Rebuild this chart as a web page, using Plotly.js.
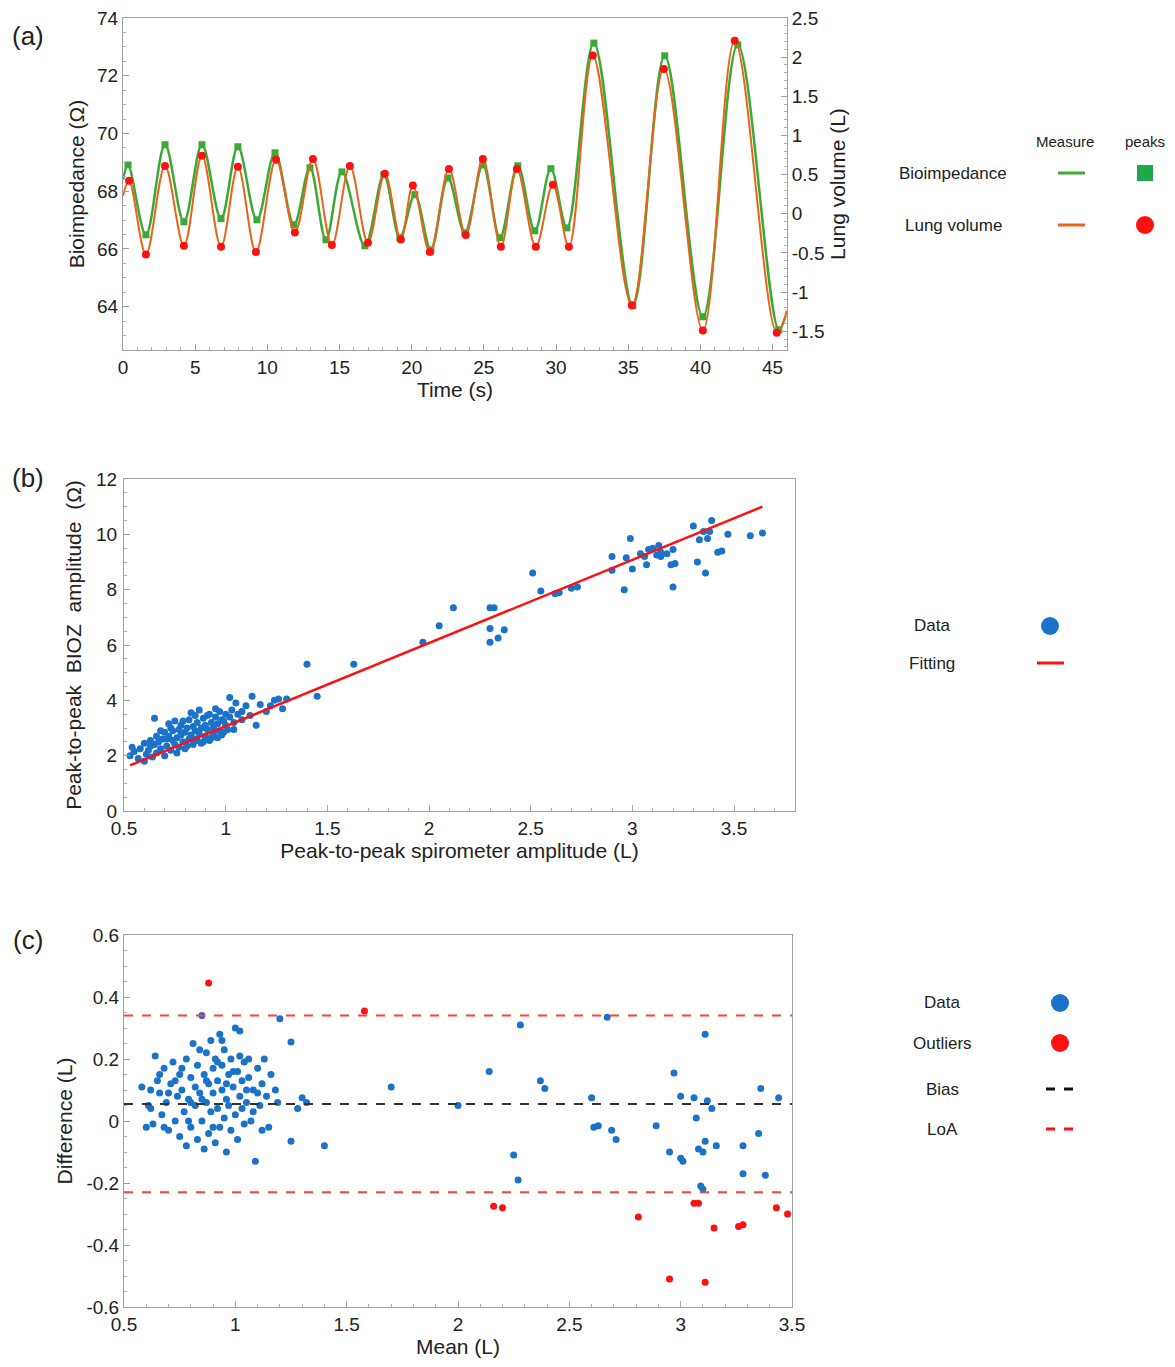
<!DOCTYPE html>
<html>
<head>
<meta charset="utf-8">
<script src="https://cdn.plot.ly/plotly-3.0.1.min.js"></script>
<style>body{margin:0;background:#fff}#chart{width:1175px;height:1367px}</style>
</head>
<body>
<div id="chart"></div>
<script>
// (a) extrema of the two signals (time s, value)
const bioT = [0, 0.35, 1.59, 2.91, 4.22, 5.47, 6.79, 7.96, 9.28, 10.53, 11.84, 12.95, 14.06, 15.17, 16.76, 18.07, 19.18, 20.22, 21.33, 22.51, 23.68, 24.93, 26.11, 27.35, 28.53, 29.64, 30.75, 32.62, 35.32, 37.53, 40.17, 42.59, 45.43, 46];
const bioZ = [68.4, 68.91, 66.49, 69.61, 66.94, 69.61, 67.05, 69.54, 67.01, 69.33, 66.84, 68.81, 66.32, 68.67, 66.11, 68.57, 66.39, 67.88, 65.97, 68.46, 66.56, 68.91, 66.39, 68.88, 66.63, 68.78, 66.73, 73.13, 64.03, 72.69, 63.65, 73.07, 63.2, 63.86];
const lungT = [0, 0.42, 1.59, 2.91, 4.22, 5.47, 6.79, 7.96, 9.21, 10.6, 11.91, 13.16, 14.47, 15.72, 16.97, 18.14, 19.25, 20.08, 21.26, 22.58, 23.75, 24.93, 26.18, 27.29, 28.6, 29.78, 30.89, 32.55, 35.25, 37.47, 40.17, 42.38, 45.29, 46];
const lungV = [0.23, 0.42, -0.52, 0.61, -0.41, 0.74, -0.42, 0.6, -0.49, 0.69, -0.24, 0.7, -0.4, 0.61, -0.37, 0.51, -0.33, 0.36, -0.49, 0.57, -0.27, 0.7, -0.42, 0.57, -0.42, 0.37, -0.42, 2.02, -1.17, 1.85, -1.49, 2.21, -1.52, -1.24];
const lungTicks = [-1.5, -1, -0.5, 0, 0.5, 1, 1.5, 2, 2.5];

// (b) peak-to-peak amplitudes [spirometer L, BIOZ ohm]
const ampPairs = [
  [0.57,1.9],[0.58,2.25],[0.6,1.8],[0.61,2.05],[0.62,2.2],[0.63,2.35],[0.64,1.95],[0.65,2.4],[0.65,3.35],[0.66,2.1],[0.67,2.5],[0.68,2.25],[0.69,2.6],[0.7,2.0],[0.7,2.85],[0.71,2.35],[0.72,2.7],[0.72,3.15],[0.73,2.2],[0.74,2.55],[0.74,2.9],[0.75,2.4],[0.75,3.25],[0.76,2.65],[0.77,2.3],[0.77,2.95],[0.78,2.75],[0.78,3.1],[0.79,2.5],[0.8,2.85],[0.8,2.25],[0.81,3.0],[0.82,2.6],[0.82,3.3],[0.83,2.75],[0.84,2.4],[0.84,3.05],[0.85,2.9],[0.85,3.45],[0.86,2.55],[0.86,3.2],[0.87,2.8],[0.88,3.0],[0.88,2.45],[0.89,3.35],[0.9,2.7],[0.9,3.1],[0.91,2.95],[0.92,2.55],[0.92,3.5],[0.93,3.2],[0.94,2.8],[0.94,3.0],[0.95,3.4],[0.96,2.65],[0.96,3.15],[0.97,3.6],[0.97,2.9],[0.98,3.3],[0.99,2.85],[1.0,3.5],[1.0,3.1],[1.01,2.95],[1.02,4.1],[1.02,3.4],[1.03,3.65],[1.04,3.2],[1.05,3.9],[1.06,3.5],[1.08,3.6],[1.08,3.3],[1.1,3.8],[1.12,3.45],[1.13,4.15],[1.15,3.1],[1.17,3.85],[1.2,3.6],[1.22,3.8],[1.24,4.0],[1.26,4.05],[1.28,3.7],[1.3,4.05],[0.68,2.9],[0.73,3.0],[0.79,3.25],[0.83,3.55],[0.87,3.65],[0.91,3.45],[0.95,3.7],[0.99,3.25],[0.76,2.1],[0.81,2.35],[0.85,2.6],[0.89,2.5],[0.93,2.65],[0.98,2.75],[1.04,2.95],[0.66,2.7],[0.71,2.6],[0.63,2.55],[0.6,2.45],[0.55,2.15],[0.53,2.0],[0.54,2.3],
  [1.4,5.3],[1.45,4.15],[1.63,5.3],[1.97,6.1],[2.05,6.7],[2.12,7.35],[2.3,7.35],[2.32,7.35],[2.3,6.1],[2.3,6.6],[2.34,6.25],[2.37,6.55],[2.51,8.6],[2.55,7.95],[2.62,7.85],[2.64,7.9],[2.7,8.05],[2.73,8.1],[2.9,9.2],[2.9,8.7],[2.96,8.0],[2.97,9.15],[2.99,9.85],[3.0,8.75],[3.04,9.3],[3.07,8.9],[3.08,9.45],[3.1,9.5],[3.12,9.25],[3.13,9.6],[3.14,9.35],[3.17,9.3],[3.19,8.9],[3.2,8.1],[3.2,9.45],[3.21,8.95],[3.3,10.3],[3.32,9.0],[3.33,9.8],[3.35,10.1],[3.36,8.6],[3.37,9.85],[3.38,10.1],[3.39,10.5],[3.42,9.35],[3.44,9.4],[3.47,10.0],[3.58,9.95],[3.64,10.05],[3.14,9.2],[3.06,9.2]
];
const fitX = [0.53, 3.64];
const fitY = [1.65, 11.0];

// (c) Bland-Altman [mean L, difference L]
const baPairs = [
  [0.58,0.11],[0.6,-0.02],[0.61,0.05],[0.62,0.04],[0.63,-0.01],[0.64,0.21],[0.65,0.13],[0.66,0.09],[0.67,0.02],[0.68,0.17],[0.69,0.06],[0.7,-0.03],[0.71,0.12],[0.72,0.19],[0.73,0.0],[0.74,0.08],[0.75,-0.05],[0.75,0.15],[0.76,0.1],[0.77,0.03],[0.78,0.2],[0.78,-0.08],[0.79,0.07],[0.8,0.14],[0.8,-0.02],[0.81,0.25],[0.82,0.05],[0.82,0.11],[0.83,-0.06],[0.83,0.18],[0.84,0.09],[0.85,0.0],[0.85,0.34],[0.86,0.15],[0.86,-0.09],[0.87,0.22],[0.87,0.06],[0.88,0.12],[0.88,-0.04],[0.89,0.26],[0.89,0.03],[0.9,0.17],[0.9,0.09],[0.91,-0.07],[0.91,0.2],[0.92,0.04],[0.92,0.13],[0.93,0.28],[0.93,-0.02],[0.94,0.1],[0.94,0.18],[0.95,0.01],[0.95,0.23],[0.96,0.07],[0.96,-0.1],[0.97,0.15],[0.97,0.05],[0.98,0.2],[0.98,-0.03],[0.99,0.11],[1.0,0.3],[1.0,0.02],[1.01,0.16],[1.01,-0.06],[1.02,0.08],[1.02,0.21],[1.03,0.13],[1.04,-0.01],[1.04,0.19],[1.05,0.06],[1.06,0.14],[1.06,0.2],[1.07,0.0],[1.08,0.1],[1.08,0.03],[1.09,-0.13],[1.1,0.17],[1.11,0.05],[1.12,0.12],[1.13,0.2],[1.14,0.08],[1.15,-0.02],[1.16,0.15],[1.18,0.1],[1.19,0.06],[1.02,0.29],[0.94,0.26],[0.84,0.23],[0.76,0.17],[0.7,0.09],[0.68,-0.02],[0.73,0.13],[0.8,0.06],[0.87,0.13],[0.9,-0.02],[0.96,0.12],[1.03,0.04],[1.1,0.09],[0.79,0.0],[0.85,0.07],[0.92,0.19],[0.99,0.16],[1.05,0.1],[1.12,-0.03],[0.66,0.15],[0.62,0.1],
  [1.2,0.33],[1.25,0.255],[1.25,-0.065],[1.3,0.075],[1.32,0.06],[1.28,0.04],[1.4,-0.08],[1.7,0.11],[2.0,0.05],[2.14,0.16],[2.25,-0.11],[2.27,-0.19],[2.28,0.31],[2.37,0.13],[2.39,0.105],[2.6,0.075],[2.61,-0.02],[2.63,-0.015],[2.67,0.335],[2.69,-0.03],[2.71,-0.06],[2.89,-0.015],[2.95,-0.1],[2.97,0.155],[3.0,0.08],[3.0,-0.12],[3.01,-0.13],[3.07,0.01],[3.08,-0.09],[3.09,-0.21],[3.1,-0.22],[3.1,-0.1],[3.11,0.28],[3.11,-0.065],[3.12,0.065],[3.14,0.04],[3.16,-0.08],[3.28,-0.17],[3.28,-0.08],[3.35,-0.04],[3.36,0.105],[3.38,-0.175],[3.44,0.075],[3.06,0.075]
];
const outPairs = [[0.88,0.445],[1.58,0.355],[2.16,-0.275],[2.2,-0.28],[2.81,-0.31],[2.95,-0.51],[3.06,-0.265],[3.08,-0.265],[3.11,-0.52],[3.15,-0.345],[3.26,-0.34],[3.28,-0.335],[3.43,-0.28],[3.48,-0.3]];
const diffTicks = [-0.6, -0.4, -0.2, 0, 0.2, 0.4, 0.6];
const bias = 0.055;
const loa = [0.34, -0.23];

const W = 1175, H = 1367;
const px = x => x / W, py = y => 1 - y / H;
const GREEN = "#3aaa35", ORANGE = "#e8641b", RED = "#ff1010", BLUE = "#1a73c8";
const FONT = "Liberation Sans, Arial, sans-serif";
const hyphen = v => String(v).replace("−", "-");

function axis(extra) {
  return Object.assign({
    showline: true, mirror: true, linecolor: "#a0a0a0", linewidth: 1,
    ticks: "inside", ticklen: 6, tickcolor: "#a0a0a0",
    showgrid: false, zeroline: false,
    tickfont: { size: 19, color: "#222" }
  }, extra);
}
const minor = d => ({ ticks: "inside", ticklen: 3, tickcolor: "#b0b0b0", dtick: d });

const traces = [
  { x: bioT, y: bioZ, mode: "lines", line: { color: GREEN, width: 2.5, shape: "spline", smoothing: 1 }, xaxis: "x", yaxis: "y" },
  { x: lungT, y: lungV, mode: "lines", line: { color: ORANGE, width: 2, shape: "spline", smoothing: 1 }, xaxis: "x", yaxis: "y2" },
  { x: lungT.slice(1, -1), y: lungV.slice(1, -1), mode: "markers", marker: { color: RED, size: 8 }, xaxis: "x", yaxis: "y2" },
  { x: bioT.slice(1, -1), y: bioZ.slice(1, -1), mode: "markers", marker: { color: GREEN, size: 7, symbol: "square" }, xaxis: "x", yaxis: "y" },
  { x: ampPairs.map(p => p[0]), y: ampPairs.map(p => p[1]), mode: "markers", marker: { color: BLUE, size: 7 }, xaxis: "x3", yaxis: "y3" },
  { x: fitX, y: fitY, mode: "lines", line: { color: RED, width: 2.5 }, xaxis: "x3", yaxis: "y3" },
  { x: baPairs.map(p => p[0]), y: baPairs.map(p => p[1]), mode: "markers", marker: { color: BLUE, size: 7 }, xaxis: "x4", yaxis: "y4" },
  { x: outPairs.map(p => p[0]), y: outPairs.map(p => p[1]), mode: "markers", marker: { color: RED, size: 7 }, xaxis: "x4", yaxis: "y4" },
  { x: [0.5, 3.5], y: [bias, bias], mode: "lines", line: { color: "#333", width: 2, dash: "dash" }, xaxis: "x4", yaxis: "y4" },
  { x: [0.5, 3.5], y: [loa[0], loa[0]], mode: "lines", line: { color: "#ff4040", width: 2, dash: "dash" }, xaxis: "x4", yaxis: "y4" },
  { x: [0.5, 3.5], y: [loa[1], loa[1]], mode: "lines", line: { color: "#ff4040", width: 2, dash: "dash" }, xaxis: "x4", yaxis: "y4" }
];

const tf = { size: 21, color: "#222" };
const layout = {
  width: W, height: H, showlegend: false,
  margin: { l: 0, r: 0, t: 0, b: 0 },
  paper_bgcolor: "#fff", plot_bgcolor: "#fff",
  font: { family: FONT, color: "#222" },
  xaxis: axis({ domain: [px(123), px(787)], range: [0, 46], dtick: 5, minor: minor(1), anchor: "y", title: { text: "Time (s)", font: tf, standoff: 4 } }),
  yaxis: axis({ domain: [py(350), py(18)], range: [62.5, 74], dtick: 2, minor: minor(0.5), anchor: "x", title: { text: "Bioimpedance (Ω)", font: tf, standoff: 6 } }),
  yaxis2: axis({ domain: [py(350), py(18)], range: [-1.74, 2.5], tickvals: lungTicks, ticktext: lungTicks.map(hyphen), overlaying: "y", side: "right", anchor: "x", mirror: false, minor: minor(0.1), title: { text: "Lung volume (L)", font: tf, standoff: 6 } }),
  xaxis3: axis({ domain: [px(124), px(795)], range: [0.5, 3.8], dtick: 0.5, minor: minor(0.1), anchor: "y3", title: { text: "Peak-to-peak spirometer amplitude (L)", font: tf, standoff: 4 } }),
  yaxis3: axis({ domain: [py(811), py(479)], range: [0, 12], dtick: 2, minor: minor(0.5), anchor: "x3", ticklabelstandoff: 2, title: { text: "Peak-to-peak  BIOZ  amplitude  (Ω)", font: tf, standoff: 8 } }),
  xaxis4: axis({ domain: [px(124), px(792)], range: [0.5, 3.5], dtick: 0.5, minor: minor(0.1), anchor: "y4", title: { text: "Mean (L)", font: tf, standoff: 2 } }),
  yaxis4: axis({ domain: [py(1307), py(935)], range: [-0.6, 0.6], tickvals: diffTicks, ticktext: diffTicks.map(hyphen), minor: minor(0.05), anchor: "x4", title: { text: "Difference (L)", font: tf, standoff: 8 } }),
  annotations: [],
  shapes: []
};

function label(text, x, y, size, anchor) {
  layout.annotations.push({ text: text, x: px(x), y: py(y), xref: "paper", yref: "paper", showarrow: false, xanchor: anchor || "center", yanchor: "middle", font: { size: size || 16, color: "#222" } });
}
function dot(x, y, r, color) {
  layout.shapes.push({ type: "circle", xref: "paper", yref: "paper", x0: px(x - r), x1: px(x + r), y0: py(y + r), y1: py(y - r), fillcolor: color, line: { width: 0 } });
}
function square(x, y, r, color) {
  layout.shapes.push({ type: "rect", xref: "paper", yref: "paper", x0: px(x - r), x1: px(x + r), y0: py(y + r), y1: py(y - r), fillcolor: color, line: { width: 0 } });
}
function seg(x0, x1, y, color, dash) {
  layout.shapes.push({ type: "line", xref: "paper", yref: "paper", x0: px(x0), x1: px(x1), y0: py(y), y1: py(y), line: { color: color, width: 3, dash: dash || "solid" } });
}

label("(a)", 28, 36, 26); label("(b)", 28, 478, 26); label("(c)", 28, 940, 26);
// legend (a)
label("Measure", 1065, 141, 15); label("peaks", 1145, 141, 15);
label("Bioimpedance", 953, 173, 17); seg(1058, 1085, 173, GREEN); square(1145, 173, 8, "#1fa84a");
label("Lung volume", 953, 225, 17); seg(1058, 1085, 225, ORANGE); dot(1145, 225, 9, RED);
// legend (b)
label("Data", 932, 626, 17); dot(1050, 626, 9, BLUE);
label("Fitting", 932, 663, 17); seg(1037, 1064, 663, RED);
// legend (c)
label("Data", 942, 1003, 17); dot(1060, 1003, 9, BLUE);
label("Outliers", 942, 1043, 17); dot(1060, 1043, 9, RED);
label("Bias", 942, 1089, 17); seg(1046, 1074, 1089, "#111", "dash");
label("LoA", 942, 1129, 17); seg(1046, 1074, 1129, RED, "dash");

Plotly.newPlot("chart", traces, layout, { displayModeBar: false, staticPlot: true });
</script>
</body>
</html>
